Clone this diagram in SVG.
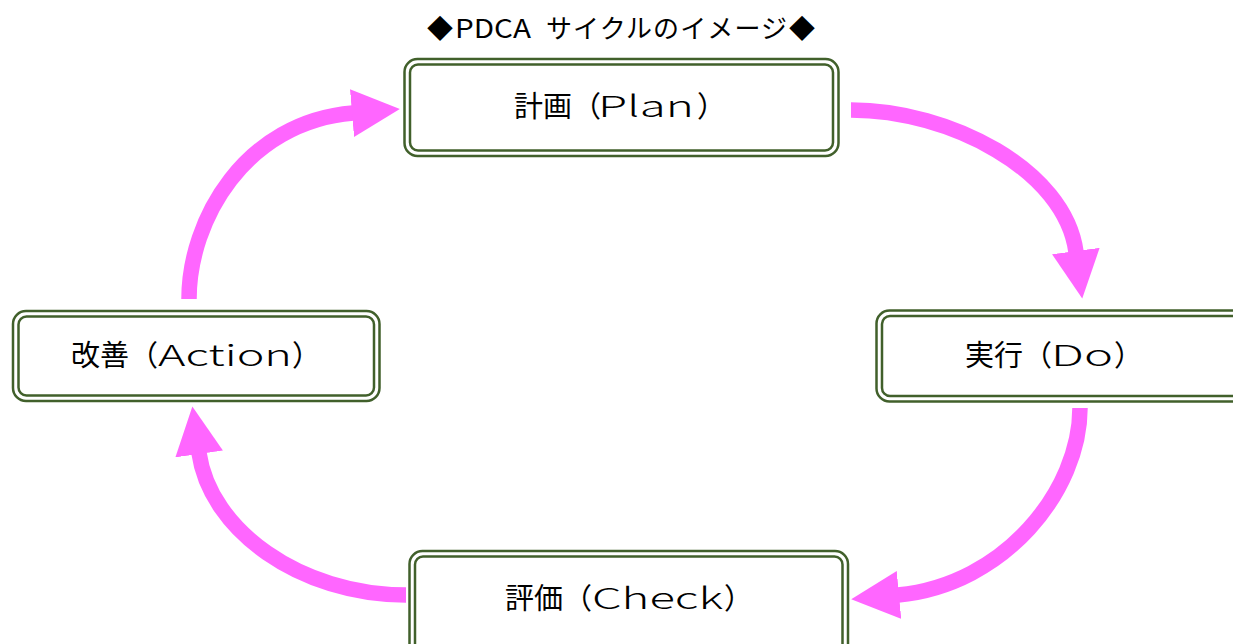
<svg xmlns="http://www.w3.org/2000/svg" width="1233" height="644" viewBox="0 0 1233 644">
<style>
.bo{fill:#ffffff;stroke:#41602b;stroke-width:2.5}
.bi{fill:none;stroke:#41602b;stroke-width:2.5}
.lbl{font-family:"Noto Sans CJK JP","Noto Sans",sans-serif;font-size:29px;fill:#000000}
.lat{font-weight:300}
.ttl{font-family:"Noto Sans CJK JP","Noto Sans",sans-serif;font-size:26px;fill:#000000}
.arr{fill:none;stroke:#ff66ff;stroke-width:15.5;stroke-linecap:butt;marker-end:url(#ah)}
</style>
<defs>
<marker id="ah" markerUnits="userSpaceOnUse" markerWidth="48" markerHeight="48" viewBox="0 0 48 48" refX="1" refY="24" orient="auto">
<path d="M0,0 L48,24 L0,48 Z" fill="#ff66ff"/>
</marker>
</defs>
<rect width="1233" height="644" fill="#ffffff"/>
<g id="title">
<text class="ttl" y="38"><tspan x="427">◆</tspan><tspan x="455" textLength="76" lengthAdjust="spacingAndGlyphs">PDCA</tspan> <tspan x="546" textLength="241" lengthAdjust="spacing">サイクルのイメージ</tspan><tspan x="789">◆</tspan></text>
</g>
<g id="connectors">
<path class="arr" d="M851,110 C950,110 1065,170 1076,252"/>
<path class="arr" d="M1080,408 C1080,490 1005,585 898,595"/>
<path class="arr" d="M406,595 C300,595 210,530 199,453"/>
<path class="arr" d="M189,299 C189,220 245,122 353,113"/>
</g>
<g id="plan">
<rect class="bo" x="404.5" y="59" width="434" height="97" rx="13"/>
<rect class="bi" x="410" y="64.5" width="423" height="86" rx="8"/>
<text class="lbl" y="117"><tspan x="514">計画（</tspan><tspan class="lat" x="598" textLength="96" lengthAdjust="spacingAndGlyphs">Plan</tspan><tspan x="697">）</tspan></text>
</g>
<g id="do">
<rect class="bo" x="876.5" y="310.5" width="420" height="91" rx="13"/>
<rect class="bi" x="882" y="316" width="409" height="80" rx="8"/>
<text class="lbl" y="366"><tspan x="965">実行（</tspan><tspan class="lat" x="1051" textLength="62" lengthAdjust="spacingAndGlyphs">Do</tspan><tspan x="1114">）</tspan></text>
</g>
<g id="check">
<rect class="bo" x="409.5" y="551" width="438.5" height="120" rx="13"/>
<rect class="bi" x="415" y="556.5" width="427.5" height="109" rx="8"/>
<text class="lbl" y="609"><tspan x="505">評価（</tspan><tspan class="lat" x="592" textLength="131" lengthAdjust="spacingAndGlyphs">Check</tspan><tspan x="724">）</tspan></text>
</g>
<g id="action">
<rect class="bo" x="13" y="311" width="366.5" height="90" rx="13"/>
<rect class="bi" x="18.5" y="316.5" width="355.5" height="79" rx="8"/>
<text class="lbl" y="366"><tspan x="71">改善（</tspan><tspan class="lat" x="158" textLength="134" lengthAdjust="spacingAndGlyphs">Action</tspan><tspan x="292">）</tspan></text>
</g>
</svg>
